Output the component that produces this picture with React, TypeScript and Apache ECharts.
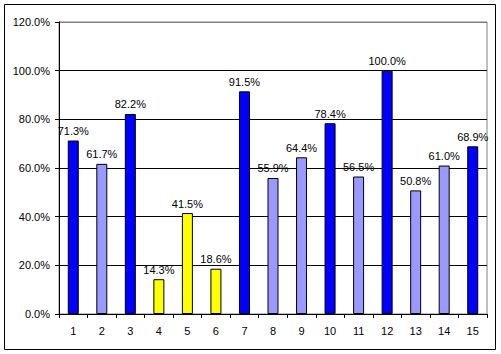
import React, { useEffect, useRef } from "react";
import * as echarts from "echarts";

const categories = ["1", "2", "3", "4", "5", "6", "7", "8", "9", "10", "11", "12", "13", "14", "15"];
const values = [71.3, 61.7, 82.2, 14.3, 41.5, 18.6, 91.5, 55.9, 64.4, 78.4, 56.5, 100.0, 50.8, 61.0, 68.9];
// group per bar: d = dark blue, l = light blue, y = yellow
const groups = ["d", "l", "d", "y", "y", "y", "d", "l", "l", "d", "l", "d", "l", "l", "d"];
const yTicks = [0, 20, 40, 60, 80, 100, 120];

const colorMap: Record<string, string> = { d: "#0000FF", l: "#9999FF", y: "#FFFF00" };
const FONT = "'Liberation Sans', Arial, sans-serif";

export default function App() {
  const ref = useRef<HTMLDivElement>(null);
  useEffect(() => {
    if (!ref.current) return;
    const chart = echarts.init(ref.current, null, { renderer: "svg" });
    chart.setOption({
      animation: false,
      backgroundColor: "#ffffff",
      grid: {
        left: 59,
        top: 22,
        right: 14,
        bottom: 40,
        show: true,
        borderColor: "#808080",
        borderWidth: 1,
      },
      graphic: [
        {
          type: "rect",
          shape: { x: 4.5, y: 4.5, width: 491, height: 345 },
          style: { fill: "none", stroke: "#000", lineWidth: 1 },
          silent: true,
          z: 100,
        },
      ],
      xAxis: {
        type: "category",
        data: categories,
        axisLine: { lineStyle: { color: "#000", width: 1 } },
        axisTick: { show: true, alignWithLabel: false, length: 4, interval: 0, lineStyle: { color: "#000" } },
        axisLabel: { interval: 0, margin: 11, color: "#000", fontSize: 11, fontFamily: FONT },
      },
      yAxis: {
        type: "value",
        min: yTicks[0],
        max: yTicks[yTicks.length - 1],
        interval: 20,
        axisLine: { show: true, lineStyle: { color: "#000", width: 1 } },
        axisTick: { show: true, length: 4, lineStyle: { color: "#000" } },
        axisLabel: {
          margin: 9,
          color: "#000",
          fontSize: 11,
          fontFamily: FONT,
          formatter: (v: number) => v.toFixed(1) + "%",
        },
        splitLine: {
          show: true,
          lineStyle: {
            color: ["#000", "#000", "#000", "#000", "#000", "#000", "#808080"],
            width: 1,
          },
        },
      },
      series: [
        {
          type: "bar",
          barWidth: 11,
          data: values.map((v, i) => ({
            value: v,
            itemStyle: { color: colorMap[groups[i]], borderColor: "#000", borderWidth: 1 },
          })),
          label: {
            show: true,
            position: "top",
            distance: 4,
            color: "#000",
            fontSize: 11,
            fontFamily: FONT,
            formatter: (p: any) => Number(p.value).toFixed(1) + "%",
          },
          z: 3,
        },
      ],
    });
    return () => chart.dispose();
  }, []);
  return (
    <div
      ref={ref}
      style={{ position: "fixed", left: 0, top: 0, width: 501, height: 354, background: "#fff" }}
    />
  );
}
